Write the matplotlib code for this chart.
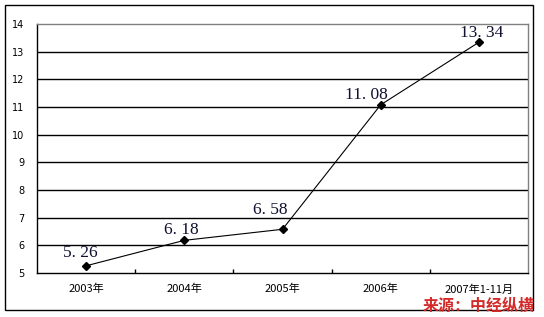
"""Line chart: yearly values 2003 - 2007 (Jan-Nov), Excel-style framed figure."""
import matplotlib
matplotlib.use("Agg")
import matplotlib.pyplot as plt
from matplotlib.patches import Rectangle
import numpy as np

plt.rcParams['font.family'] = ['Noto Sans CJK SC', 'DejaVu Sans']

# data
CATEGORIES = ["2003年", "2004年", "2005年", "2006年", "2007年1-11月"]
VALUES = [5.26, 6.18, 6.58, 11.08, 13.34]
LABELS = ["5. 26", "6. 18", "6. 58", "11. 08", "13. 34"]
YTICKS = [5, 6, 7, 8, 9, 10, 11, 12, 13, 14]

# label offsets in pixels (dx, dy) from each point
LABEL_OFFSETS = [(-6, 13), (-3, 10), (-12, 19), (-14, 10), (3, 9)]

fig = plt.figure(figsize=(5.44, 3.17), dpi=100)
fig.patch.set_facecolor("white")

# outer frame around the whole chart
fig.patches.append(Rectangle((5 / 544, 7 / 317), 528 / 544, 305 / 317,
                             transform=fig.transFigure, fill=False,
                             edgecolor="black", linewidth=1.0))

ax = fig.add_axes([37 / 544, 44 / 317, 491 / 544, 249 / 317])
x = np.arange(len(CATEGORIES))

# horizontal grid lines (inner ones black, top is the gray frame)
for yv in YTICKS[1:-1]:
    ax.axhline(yv, color="black", linewidth=1.0, zorder=1)

ax.plot(x, VALUES, color="black", linewidth=0.8, marker="D",
        markersize=4, markerfacecolor="black", zorder=3)

for xi, yi, lab, (dx, dy) in zip(x, VALUES, LABELS, LABEL_OFFSETS):
    ax.annotate(lab, (xi, yi), xytext=(dx, dy), textcoords="offset pixels",
                ha="center", va="center", fontsize=12.5,
                family="Liberation Serif", color="#101030", zorder=4)

ax.set_xlim(-0.5, len(CATEGORIES) - 0.5)
ax.set_ylim(YTICKS[0], YTICKS[-1])
ax.set_yticks(YTICKS)
ax.set_yticklabels([str(v) for v in YTICKS], fontsize=7, family="DejaVu Sans")
ax.tick_params(axis="y", length=0, pad=9)

ax.set_xticks(x)
ax.set_xticklabels(CATEGORIES, fontsize=8)
ax.tick_params(axis="x", which="major", length=0, pad=8)
ax.set_xticks(np.arange(0.5, len(CATEGORIES) - 0.5, 1.0), minor=True)
ax.tick_params(axis="x", which="minor", direction="in", length=3, width=1.0)

for side in ("left", "bottom"):
    ax.spines[side].set_color("black")
    ax.spines[side].set_linewidth(1.0)
for side in ("top", "right"):
    ax.spines[side].set_color("#808080")
    ax.spines[side].set_linewidth(1.0)

# source watermark
fig.text(535 / 544, 11 / 317, "来源：中经纵横", ha="right", va="center",
         fontsize=11.5, fontweight="bold", style="italic", color="#d42a2a")

fig.savefig("out.png", dpi=100)
